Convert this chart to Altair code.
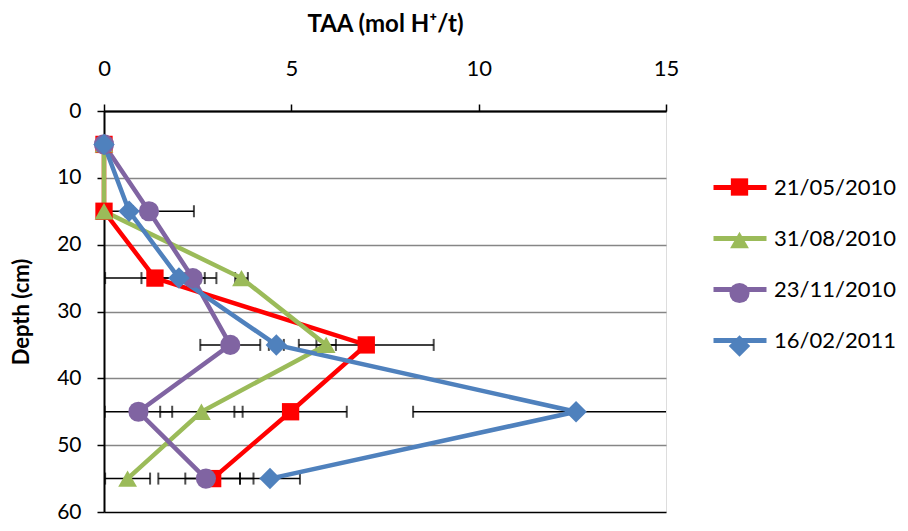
import altair as alt
import pandas as pd

depths = [5, 15, 25, 35, 45, 55]
dates = ["21/05/2010", "31/08/2010", "23/11/2010", "16/02/2011"]

taa_2105 = [0.0, 0.0, 1.36, 7.0, 4.98, 2.9]
err_2105 = [0.0, 0.0, 1.33, 1.8, 1.5, 0.73]
taa_3108 = [0.0, 0.0, 3.67, 5.93, 2.6, 0.63]
err_3108 = [0.0, 0.0, 0.17, 0.26, 1.1, 0.6]
taa_2311 = [0.0, 1.2, 2.37, 3.37, 0.92, 2.72]
err_2311 = [0.0, 1.2, 0.2, 0.8, 0.9, 1.27]
taa_1602 = [0.0, 0.67, 2.0, 4.6, 12.6, 4.43]
err_1602 = [0.0, 0.1, 1.0, 0.2, 4.35, 0.8]

colors = ["#FF0000", "#9BBB59", "#8064A2", "#4F81BD"]
shapes = ["square", "triangle-up", "circle", "diamond"]
marker_sizes = [300, 460, 300, 420]

x_ticks = [0, 5, 10, 15]
y_ticks = [0, 10, 20, 30, 40, 50, 60]

rows = []
for d, vals, errs in zip(dates, [taa_2105, taa_3108, taa_2311, taa_1602],
                         [err_2105, err_3108, err_2311, err_1602]):
    for dep, v, e in zip(depths, vals, errs):
        rows.append({"Date": d, "DateL": d, "Depth": dep, "TAA": v,
                     "lo": v - e, "hi": v + e})
df = pd.DataFrame(rows)

FONT = "Lato"
XTITLE = "TAA (mol H⁺/t)"
YTITLE = "Depth (cm)"

x_scale = alt.Scale(domain=[0, 15], nice=False, zero=False)
y_scale = alt.Scale(domain=[0, 60], reverse=True, nice=False)

x_axis = alt.Axis(orient="top", values=x_ticks, title=XTITLE, grid=False,
                  domainColor="black", domainWidth=2, tickColor="black",
                  tickWidth=1.5, tickSize=7, labelFont=FONT, labelFontSize=22,
                  labelColor="black", labelPadding=24, titleFont=FONT,
                  titleFontSize=24, titleFontWeight="bold", titleColor="black",
                  titlePadding=21, labelFlush=False)
y_axis = alt.Axis(values=y_ticks, title=YTITLE, grid=True,
                  gridColor={"condition": {"test": "datum.value == 0 || datum.value == 60",
                                           "value": "black"}, "value": "#868686"},
                  gridWidth=1.5,
                  domainColor="black", domainWidth=2, tickColor="black",
                  tickWidth=1.5, tickSize=7, labelFont=FONT, labelFontSize=21,
                  labelColor="black", labelPadding=16, titleFont=FONT,
                  titleFontSize=22, titleFontWeight="bold", titleColor="black",
                  titlePadding=23, labelFlush=False)

base = alt.Chart(df)

err_line = base.mark_rule(color="black", strokeWidth=1.5, clip=True).encode(
    x=alt.X("lo:Q", scale=x_scale, axis=x_axis, title=XTITLE),
    x2="hi:Q",
    y=alt.Y("Depth:Q", scale=y_scale, axis=y_axis, title=YTITLE),
)

err_caps = base.transform_fold(["lo", "hi"], as_=["end", "val"]).mark_tick(
    color="black", thickness=2, size=12, orient="vertical", clip=True
).encode(
    x=alt.X("val:Q", scale=x_scale, axis=x_axis, title=XTITLE),
    y=alt.Y("Depth:Q", scale=y_scale, axis=y_axis, title=YTITLE),
)

line_legend = alt.Legend(orient="none", legendX=607, legendY=47.5,
                         title=None, symbolType="stroke",
                         symbolSize=2809, symbolStrokeWidth=5,
                         labelFont=FONT, labelFontSize=22,
                         labelColor="black", labelOffset=5,
                         rowPadding=11, padding=0)

lines = base.mark_line(strokeWidth=4.5).encode(
    x=alt.X("TAA:Q", scale=x_scale, axis=x_axis, title=XTITLE),
    y=alt.Y("Depth:Q", scale=y_scale, axis=y_axis, title=YTITLE),
    stroke=alt.Stroke("DateL:N", sort=dates, scale=alt.Scale(range=colors),
                      legend=line_legend),
    order="Depth:Q",
)

point_legend = alt.Legend(orient="none", legendX=624.5, legendY=65,
                          title=None, symbolStrokeWidth=0, labelFont=FONT,
                          labelFontSize=22, labelExpr="''",
                          rowPadding=31, padding=0)

points = base.mark_point(filled=True, opacity=1, strokeWidth=0).encode(
    x=alt.X("TAA:Q", scale=x_scale, axis=x_axis, title=XTITLE),
    y=alt.Y("Depth:Q", scale=y_scale, axis=y_axis, title=YTITLE),
    color=alt.Color("Date:N", scale=alt.Scale(domain=dates, range=colors),
                    legend=point_legend),
    shape=alt.Shape("Date:N", scale=alt.Scale(domain=dates, range=shapes),
                    legend=point_legend),
    size=alt.Size("Date:N", scale=alt.Scale(domain=dates, range=marker_sizes),
                  legend=point_legend),
)

chart = alt.layer(err_line, err_caps, lines, points).properties(
    width=562, height=401,
    autosize=alt.AutoSizeParams(type="none"),
    padding={"left": 96, "top": 103, "right": 234, "bottom": 11},
).configure_view(stroke="black", strokeWidth=2).configure(background="white")

chart.save("out.html", embed_options={"renderer": "svg", "actions": False})
